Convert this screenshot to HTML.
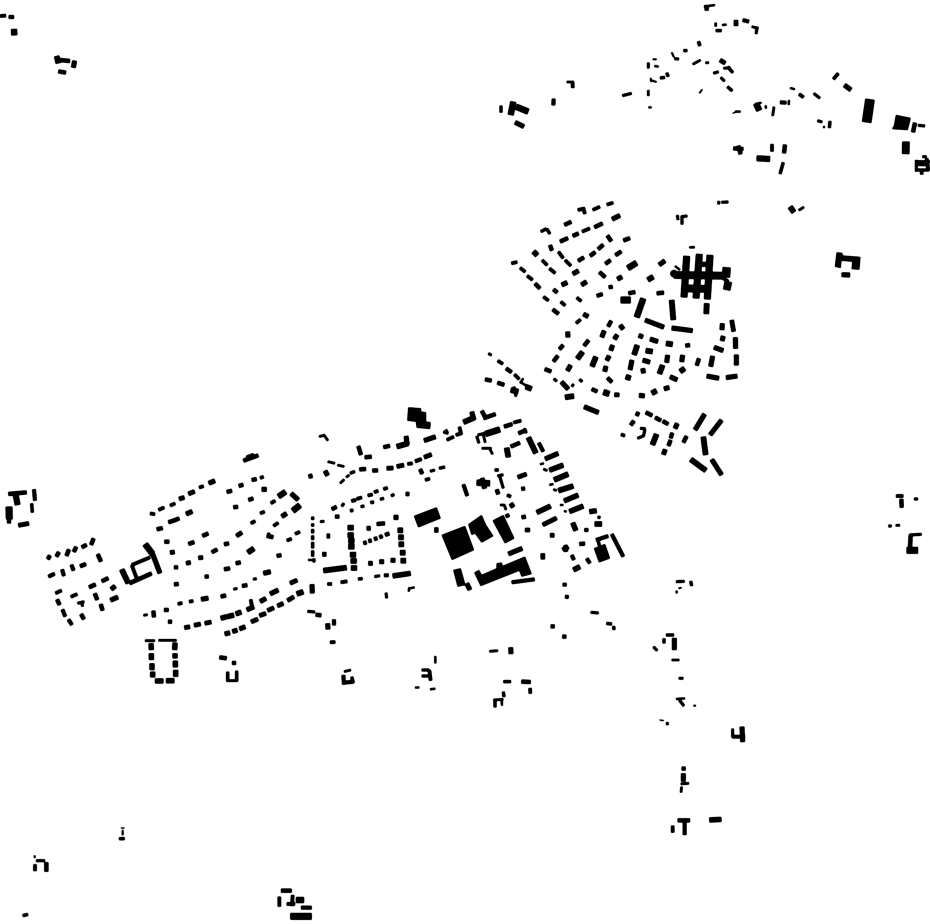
<!DOCTYPE html>
<html><head><meta charset="utf-8"><style>
html,body{margin:0;padding:0;background:#fff;width:930px;height:924px;overflow:hidden}
svg{display:block}
path{fill:none;stroke:#000;stroke-linecap:butt}
path.f{fill:#000;stroke:none}
</style></head><body>
<svg width="930" height="924" viewBox="0 0 930 924">
<defs><filter id="s" filterUnits="userSpaceOnUse" x="0" y="0" width="930" height="924" color-interpolation-filters="sRGB"><feGaussianBlur stdDeviation="0.55"/><feComponentTransfer><feFuncA type="linear" slope="2.4" intercept="-0.25"/></feComponentTransfer></filter></defs>
<g filter="url(#s)">
<!-- Z1 -->
<g transform="translate(480,190) scale(.33333)">
<path stroke-width="6" d="M628 172 644 172M585 228 600 240M130 565 120 580M120 575 140 588"/>
<path stroke-width="8" d="M25 490 35 496M480 715 497 716M495 718 490 740M490 738 472 745M102 590 108 620M724 37 745 36M592 75 594 90M603 80 622 78M606 78 606 104M221 566 231 574M275 590 281 582"/>
<path stroke-width="9" d="M182 125 200 116M200 116 210 132M298 568 307 575"/>
<path stroke-width="10" d="M380 44 400 38M338 60 360 50M293 60 315 55M310 55 315 72M306 125 330 115M235 185 250 205M186 210 202 226M255 210 273 228M208 235 226 250M94 220 112 216M120 233 136 246M141 257 158 270M190 320 206 332M242 335 256 347M290 322 304 334M288 400 302 388M53 512 69 522M103 553 118 568M423 733 435 738M712 38 720 38"/>
<path stroke-width="12" d="M253 105 274 95M343 112 368 100M278 138 296 130M240 155 264 144M210 165 216 182M165 280 180 296M218 358 236 372M220 298 232 308M294 213 312 202M330 198 346 186M354 178 370 164M382 136 394 154M430 152 450 144M406 196 424 184M376 222 392 210M358 246 376 262M386 292 398 290M350 318 368 312M530 310 552 308M445 310 466 306M238 478 250 465M220 515 234 497M194 537 214 545M312 468 326 450M384 410 394 392M382 563 396 577M335 597 352 605M78 535 95 547M15 568 35 572M52 578 73 585M470 678 475 666M452 706 462 692M497 667 517 677M525 682 543 692M548 693 565 703M577 728 572 745M572 750 565 768M620 738 610 758M657 505 650 527"/>
<path stroke-width="14" d="M396 88 420 76M245 285 262 277M278 252 296 242M304 285 320 275M412 268 426 260M537 225 555 212M310 372 325 380M263 425 264 442M262 543 272 525M365 442 373 422M420 405 430 418M403 448 412 434M392 482 398 465M380 512 388 497M374 545 378 528M244 575 265 598M312 650 356 668M477 616 494 618M552 597 568 592M570 560 592 570M450 540 456 510M510 447 534 455M488 510 510 517M488 535 491 550M563 495 560 518M608 495 605 516M622 460 624 472M480 445 485 432M727 400 726 420M730 438 726 453M702 472 730 482M766 442 767 476M698 498 692 530M769 494 769 526M680 558 717 565M738 563 772 558M495 390 552 412M575 414 638 422M592 700 585 716M556 778 550 794M674 672 645 720M725 690 690 735M695 808 725 855"/>
<path stroke-width="13" d="M755 390 761 425M403 614 418 615"/>
<path stroke-width="16" d="M160 184 172 196M503 270 520 260M575 330 580 390M680 340 679 372M292 507 308 485M336 530 348 500M137 590 155 597M92 600 115 605M515 610 530 602M600 545 614 535M437 560 452 565M462 495 472 465M497 482 518 485M558 460 578 463M538 552 548 525M255 622 282 618M670 740 677 795M632 808 678 842M530 732 517 765"/>
<path stroke-width="18" d="M443 235 470 218M370 606 388 612M490 325 470 382"/>
<path stroke-width="20" d="M422 330 452 330"/>
</g>
<!-- Main complex Z11 -->
<g transform="translate(660,240) scale(.33333)">
<circle cx="42" cy="101" r="11"/>
<path stroke-width="20" d="M80 48 72 172M118 42 108 175M150 45 142 178"/>
<path stroke-width="22" d="M42 105 190 107M70 145 150 147M205 125 200 150"/>
<path stroke-width="24" d="M200 82 198 112"/>
<path stroke-width="14" d="M110 73 150 73"/>
<path stroke-width="10" d="M190 115 205 125"/>
<path stroke-width="5" d="M88 22 104 21"/>
</g>
<!-- Z2 -->
<g transform="translate(300,400) scale(.33333)">
<path class="f" d="M325 22 363 25 363 35 378 37 378 65 392 67 390 87 350 83 348 65 322 62ZM342 348 410 322 422 355 355 382ZM425 405 495 378 522 450 456 480ZM505 373 545 345 558 375 580 408 545 428 525 400 515 405ZM578 362 610 345 643 415 615 430ZM523 518 537 510 545 525 590 505 590 490 605 488 608 498 675 470 695 522 665 530 658 512 542 558ZM460 510 482 505 496 555 473 560ZM882 445 915 432 930 475 897 487Z"/>
<path stroke-width="6" d="M24 480 46 480M438 88 443 98M748 255 760 252M780 315 790 315M792 333 800 335M720 193 732 190M326 575 328 562M328 565 344 562M672 85 680 100"/>
<path stroke-width="7" d="M72 105 84 122M57 110 75 105M83 185 105 190M112 195 133 200M120 250 133 238M138 232 148 225M600 315 615 315M613 315 618 330M545 145 575 145M570 148 578 163M550 105 556 128M730 207 742 212M760 268 770 272"/>
<path stroke-width="8" d="M258 578 260 595M390 214 405 210M223 530 240 527M60 365 73 364M533 105 555 100M530 108 537 130M592 228 610 224M598 225 610 265M42 475 42 487"/>
<path stroke-width="9" d="M38 350 38 360M38 370 38 380M38 387 38 400M38 406 38 420M38 426 38 445M38 451 38 470M893 350 901 354M417 205 435 201M150 220 165 214M174 537 188 536M273 288 283 283M240 298 252 295M182 320 193 318M430 95 445 100M893 415 898 437"/>
<path stroke-width="10" d="M440 120 462 110M467 105 485 100M478 80 484 104M322 192 338 190M375 240 390 236M203 287 218 283M222 277 235 272M250 268 263 263M211 308 222 306M170 297 186 292M150 332 160 331M82 552 96 552M122 547 142 544M640 68 664 62M621 285 633 290M795 435 800 455"/>
<path stroke-width="11" d="M345 184 365 177M154 303 168 300M490 253 502 288M252 526 266 526M888 420 925 408M853 390 865 390M815 465 822 480M860 475 870 490M935 402 970 470M716 128 730 155M635 547 704 538M788 554 800 554M795 590 806 591"/>
<path stroke-width="12" d="M250 142 270 137M175 138 183 165M194 172 215 170M30 222 33 235M178 208 198 207M217 212 234 211M360 207 367 222M95 328 110 320M125 312 132 317M105 350 118 350M230 372 255 370M612 80 637 72M655 100 680 90M632 140 660 128M590 205 590 215M590 268 595 283M664 267 675 265M620 342 625 352M838 432 855 431"/>
<path stroke-width="12" d="M190 430 200 427M205 424 215 421M222 418 232 414M238 412 248 408M255 405 268 400M545 32 555 50M550 55 587 42"/>
<path stroke-width="13" d="M260 205 280 204M290 200 312 195M372 172 395 163M653 232 680 222M317 282 328 282M670 345 672 357M675 390 690 390M750 406 763 406M728 460 729 478M728 375 770 354"/>
<path stroke-width="14" d="M372 122 407 110M75 212 83 227M318 108 322 135M36 553 37 580M80 408 90 408M67 463 79 463M200 385 212 385M205 490 218 490M238 485 252 485M272 481 286 481M515 35 522 60M625 462 667 445M500 550 510 570M632 310 640 322M735 177 775 160M788 450 805 440"/>
<path stroke-width="15" d="M281 352 295 352M278 528 332 520M868 335 890 332M818 368 828 392M820 510 840 500M710 338 752 318M748 211 790 195M792 303 835 285M808 335 850 318"/>
<path stroke-width="16" d="M143 383 161 383M143 405 161 405M145 422 163 422M145 440 163 440M150 464 168 464M152 483 170 483M153 504 171 504M293 391 309 391M295 412 311 412M296 433 312 433M300 458 316 458M302 482 318 482M403 390 415 390M70 512 140 503M290 140 325 130M490 67 525 52M620 143 625 172M685 112 708 160M762 240 805 222M775 272 820 258M884 372 906 372"/>
<path stroke-width="18" d="M530 248 570 250M556 102 600 88"/>
<path stroke-width="14" d="M546 234 554 266"/>
</g>
<!-- Z3 -->
<g transform="translate(30,450) scale(.33333)">
<path stroke-width="7" d="M340 496 353 494M345 572 375 572M385 571 440 571M593 692 620 692"/>
<path stroke-width="8" d="M669 388 680 386M610 418 622 415M142 460 163 455M155 458 158 470M715 248 720 265"/>
<path stroke-width="9" d="M593 665 593 695M620 662 620 695"/>
<path stroke-width="10" d="M360 190 375 193M385 180 403 172M420 167 436 160M507 113 521 108M690 84 701 80M722 160 736 152M690 190 704 185M662 220 676 213M730 228 745 218M770 272 785 266M795 252 810 245M76 430 95 421M122 441 142 432M477 455 490 453M443 462 457 459M305 345 360 322M305 345 320 385M662 448 666 470"/>
<path stroke-width="12" d="M626 108 640 104M665 90 680 87M590 126 606 122M655 150 670 145M610 172 624 170M380 238 398 234M415 217 430 212M430 212 448 205M403 275 418 275M432 352 444 352M432 403 446 402M524 380 536 379M475 282 493 276M517 258 535 250M545 307 562 298M582 283 597 280M617 340 632 337M582 358 600 355M740 318 754 315M636 408 652 405M572 440 588 436M370 482 372 502M402 480 416 480M414 515 426 515M298 400 365 370M710 257 730 262M568 622 590 625M612 633 612 645M81 448 89 465M153 492 162 508M194 430 202 450M212 462 218 482M203 312 213 335M150 349 168 342M177 412 197 403M215 394 235 384M640 32 685 16"/>
<path stroke-width="11" d="M55 380 74 371M96 358 102 378M124 344 131 362M97 478 106 500M115 508 126 525"/>
<path stroke-width="12" d="M53 328 60 316M79 320 87 306M109 318 117 298M131 306 139 290M155 292 170 284M183 285 191 265"/>
<path stroke-width="13" d="M447 147 463 142M475 132 494 124M619 258 636 247M420 308 434 306M468 340 482 337M505 324 519 322M780 400 802 390M772 452 792 440M742 468 760 460M712 482 732 473M688 497 708 490M663 516 684 507M463 533 480 530M492 526 512 522M524 520 544 516"/>
<path stroke-width="14" d="M536 100 555 92M695 118 710 118M468 192 487 184M755 200 770 190M783 130 805 150M700 370 722 365M513 448 535 444M720 432 745 420M690 455 708 445M650 480 672 470M628 537 646 530M607 545 622 540M584 552 600 548M243 418 256 408M241 451 264 441M368 312 390 370"/>
<path stroke-width="15" d="M572 505 590 500M592 500 612 495M617 492 634 486M363 580 364 600M364 610 364 630M366 640 366 660M368 665 368 682M435 578 434 600M435 610 435 625M436 632 436 652M437 660 437 680M375 693 400 693M408 692 433 692"/>
<path stroke-width="16" d="M275 358 295 400M653 308 672 295M800 432 820 425"/>
<path stroke-width="17" d="M745 140 767 125"/>
<path stroke-width="18" d="M788 183 810 165M345 282 368 312"/>
<path stroke-width="14" d="M650 24 672 16"/>
</g>
<!-- Z5 -->
<g transform="translate(300,570) scale(.33333)">
<path stroke-width="6" d="M406 258 406 280M345 353 358 352M390 358 406 356M605 388 606 407"/>
<path stroke-width="7" d="M568 244 594 242M580 390 610 388M132 305 153 300"/>
<path stroke-width="8" d="M22 124 45 126M872 127 896 129M365 300 388 300M365 318 385 318"/>
<path stroke-width="9" d="M919 160 936 162M941 168 942 180M610 335 633 335M610 365 612 381M585 388 585 412M155 320 160 338"/>
<path stroke-width="10" d="M90 217 106 216M388 300 392 332M690 354 691 371"/>
<path stroke-width="11" d="M102 148 102 166M130 315 132 344M130 338 162 335"/>
<path stroke-width="12" d="M47 134 64 136M752 169 764 169M787 200 799 200M664 335 692 336"/>
<path stroke-width="14" d="M83 160 84 178M632 232 633 252"/>
</g>
<!-- Z6 -->
<g transform="translate(640,570) scale(.33333)">
<path stroke-width="3" d="M58 450 72 452"/>
<path stroke-width="4" d="M115 55 125 53"/>
<path stroke-width="5" d="M160 407 168 407"/>
<path stroke-width="6" d="M110 62 110 70M108 387 135 385"/>
<path stroke-width="7" d="M95 270 118 270M122 642 147 640M125 650 123 668"/>
<path stroke-width="8" d="M108 35 134 34M40 230 52 242M116 325 130 325M118 390 132 408M278 476 278 502"/>
<path stroke-width="9" d="M152 33 155 48M78 195 102 195M72 205 72 220M78 461 86 461"/>
<path stroke-width="10" d="M276 500 315 500M98 767 98 788"/>
<path stroke-width="11" d="M134 755 134 795"/>
<path stroke-width="12" d="M131 590 131 602M113 751 150 751"/>
<path stroke-width="14" d="M103 204 103 240M306 470 308 516M130 610 130 635"/>
<path stroke-width="15" d="M208 750 244 748"/>
</g>
<!-- Z4 -->
<g transform="translate(490,0) scale(.33333)">
<path class="f" d="M1218 345 1262 354 1253 390 1206 387 1212 378Z"/>
<path stroke-width="3" d="M727 340 737 337"/>
<path stroke-width="4" d="M482 233 484 246M628 280 637 268"/>
<path stroke-width="5" d="M488 178 500 178M545 157 552 172M480 240 500 246M795 312 815 308"/>
<path stroke-width="6" d="M642 20 675 15M696 75 710 74M493 198 506 200M475 322 485 322M735 335 752 335M827 316 828 326M897 300 896 315M900 264 915 268M1001 378 1003 384"/>
<path stroke-width="7" d="M677 68 677 80M785 80 805 85M608 193 632 180M646 188 657 188M700 205 722 203M475 270 475 288M230 246 252 246M852 320 848 348"/>
<path stroke-width="8" d="M802 80 798 102M475 188 475 205M553 176 567 177M670 220 686 215M692 232 704 244M397 287 425 280M971 280 990 295M982 362 997 366M1284 376 1305 378M1275 485 1320 485M1279 480 1279 515M1282 510 1318 510M1297 470 1310 470M1290 520 1300 520M1285 494 1312 494"/>
<path stroke-width="9" d="M677 92 695 92M580 152 592 152M712 200 729 218M712 260 727 273M510 234 525 232M530 218 535 230M33 317 33 338M1020 363 1018 384M870 522 880 487"/>
<path stroke-width="10" d="M625 124 630 138M927 282 941 292M1030 238 1045 220M846 432 846 455M1310 475 1315 510M248 248 248 264"/>
<path stroke-width="11" d="M758 60 777 65M191 296 190 316M870 307 889 308"/>
<path stroke-width="12" d="M650 15 650 32M730 445 760 447M745 437 752 463M885 434 882 460M1275 368 1269 397"/>
<path stroke-width="13" d="M738 60 738 78M690 180 706 190"/>
<path stroke-width="14" d="M75 367 102 380M1063 255 1083 270"/>
<path stroke-width="18" d="M70 305 62 345M798 310 808 332"/>
<path stroke-width="17" d="M800 475 840 477"/>
<path stroke-width="18" d="M78 320 115 335"/>
<path stroke-width="22" d="M1248 425 1247 462"/>
<path stroke-width="28" d="M1140 298 1130 367"/>
</g>
<!-- Z7 -->
<g transform="scale(.33333)">
<path stroke-width="10" d="M0 48 18 47"/>
<path stroke-width="11" d="M26 51 42 51"/>
<path stroke-width="18" d="M42 87 43 106"/>
<path stroke-width="16" d="M170 168 175 190"/>
<path stroke-width="12" d="M178 180 210 183M175 214 198 218"/>
<path stroke-width="14" d="M224 182 220 203"/>
</g>
<!-- Z8 -->
<g transform="translate(0,480) scale(.33333)">
<path stroke-width="12" d="M25 42 80 37M27 118 27 130"/>
<path stroke-width="17" d="M47 45 53 75"/>
<path stroke-width="11" d="M102 28 105 62"/>
<path stroke-width="9" d="M95 70 97 98"/>
<path stroke-width="20" d="M27 80 28 118"/>
<path stroke-width="13" d="M55 136 87 130"/>
</g>
<!-- Z9 -->
<g transform="translate(0,820) scale(.33333)">
<path stroke-width="3" d="M362 24 374 24"/>
<path stroke-width="5" d="M368 30 368 46M104 106 104 114"/>
<path stroke-width="8" d="M108 122 135 122"/>
<path stroke-width="9" d="M357 56 374 56M68 287 84 283"/>
<path stroke-width="10" d="M105 133 105 153M838 230 838 260M878 225 876 258M860 252 885 252"/>
<path stroke-width="12" d="M139 127 139 155M843 212 875 212"/>
<path stroke-width="18" d="M888 240 912 240"/>
<path stroke-width="11" d="M903 263 935 263"/>
<path stroke-width="20" d="M871 289 935 289"/>
</g>
<!-- Z10 -->
<g transform="translate(770,195) scale(.33333)">
<path class="f" d="M200 172 217 174 218 182 271 186 268 224 245 222 247 200 214 197 212 219 195 215Z"/>
<path stroke-width="16" d="M60 35 72 52"/>
<path stroke-width="7" d="M86 46 102 36M377 991 390 991"/>
<path stroke-width="14" d="M215 239 240 240"/>
<path stroke-width="10" d="M378 903 400 903"/>
<path stroke-width="12" d="M394 912 395 938M422 1020 420 1060"/>
<path stroke-width="8" d="M432 912 444 912M355 993 365 993M418 1020 455 1018"/>
<path stroke-width="20" d="M410 1066 444 1066"/>
</g>
</g>
</svg>
</body></html>
